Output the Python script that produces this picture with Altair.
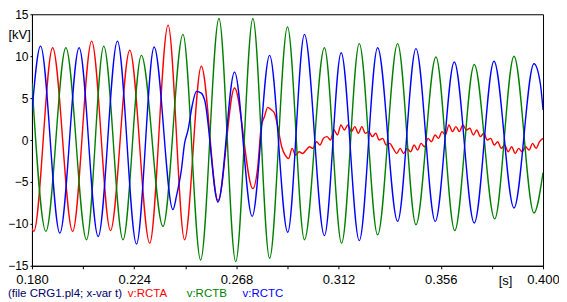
import altair as alt
import pandas as pd

# ---- data (time in s, voltage in kV) ----
rcta_t = [0.1800, 0.1808, 0.1889, 0.1975, 0.2057, 0.2138, 0.2221, 0.2307, 0.2386,
          0.2457, 0.2529, 0.2601, 0.2672, 0.2751, 0.2772, 0.2787, 0.2801, 0.2815,
          0.2830, 0.2844, 0.2858,
          0.2875, 0.2890, 0.2905, 0.2920, 0.2935, 0.2950, 0.2965, 0.2980, 0.2995, 0.3010,
          0.3025, 0.3040, 0.3055, 0.3070, 0.3085, 0.3100, 0.3115, 0.3130, 0.3145, 0.3160,
          0.3175, 0.3190, 0.3205, 0.3220, 0.3235, 0.3250, 0.3265, 0.3280, 0.3295, 0.3310,
          0.3325, 0.3340, 0.3355, 0.3370, 0.3385, 0.3400, 0.3415, 0.3430, 0.3445, 0.3460,
          0.3475, 0.3490, 0.3505, 0.3520, 0.3535, 0.3550, 0.3565, 0.3580, 0.3595, 0.3610,
          0.3625, 0.3640, 0.3655, 0.3670, 0.3685, 0.3700, 0.3715, 0.3730, 0.3745, 0.3760,
          0.3775, 0.3790, 0.3805, 0.3820, 0.3835, 0.3850, 0.3865, 0.3880, 0.3895, 0.3910,
          0.3925, 0.3940, 0.3955, 0.3970, 0.3985, 0.4000]
rcta_v = [-10.6, -10.9, 11.0, -10.9, 11.8, -10.8, 10.7, -12.3, 13.7,
          -11.9, 8.8, -7.2, 6.2, -5.8, -3.2, 1.6, 2.8, 3.9,
          3.6, 3.2, 1.6,
          -0.8, -1.8, -2.2, -1.0, -1.8, -1.4, -1.6, -1.2, -0.8, -1.0,
          -0.2, -0.6, 0.2, 0.4, 0.0, 1.2, 0.6, 1.8, 1.2, 1.8,
          1.0, 1.6, 0.8, 1.6, 0.8, 1.0, 0.4, 0.8, 0.0, 0.2,
          -0.6, -0.4, -1.0, -1.6, -1.0, -1.6, -1.0, -1.4, -0.6, -1.2,
          -0.4, -0.8, 0.2, -0.2, 0.6, 0.2, 1.0, 0.6, 1.8, 1.0,
          1.6, 1.0, 1.8, 1.2, 1.4, 0.6, 1.2, 0.4, 0.8, 0.0,
          0.2, -0.6, -0.2, -1.0, -0.6, -1.4, -0.8, -1.6, -1.0, -1.4,
          -0.8, -1.2, -0.4, -1.0, -0.2, 0.2]

rctb_t = [0.1800, 0.1860, 0.1946, 0.2035, 0.2109, 0.2192, 0.2271, 0.2364, 0.2450,
          0.2526, 0.2605, 0.2677, 0.2751, 0.2823, 0.2900, 0.2973, 0.3059, 0.3133,
          0.3209, 0.3288, 0.3374, 0.3453, 0.3539, 0.3620, 0.3704, 0.3792, 0.3875,
          0.3961, 0.4000]
rctb_v = [6.8, -10.9, 11.0, -11.9, 11.2, -11.9, 10.1, -10.3, 12.6,
          -14.3, 14.5, -14.5, 14.5, -14.1, 13.5, -11.9, 11.0, -12.3,
          11.5, -11.3, 11.5, -10.1, 9.9, -10.8, 9.0, -9.4, 10.0,
          -8.7, -3.9]

rctc_t = [0.1800, 0.1837, 0.1920, 0.2003, 0.2085, 0.2168, 0.2250, 0.2326, 0.2407,
          0.2422, 0.2443, 0.2457, 0.2472, 0.2489, 0.2508, 0.2529, 0.2543, 0.2601,
          0.2672, 0.2748, 0.2823, 0.2901, 0.2973, 0.3059, 0.3131, 0.3209, 0.3288,
          0.3374, 0.3453, 0.3536, 0.3618, 0.3704, 0.3789, 0.3875, 0.3961, 0.3988,
          0.4000]
rctc_v = [3.4, 11.2, -11.1, 11.0, -11.5, 11.8, -12.4, 11.1, -8.3,
          -6.7, -3.6, -0.4, 1.2, 4.0, 5.8, 5.6, 4.8, -7.4,
          8.1, -9.1, 10.1, -11.0, 12.6, -11.4, 10.4, -12.0, 11.0,
          -9.7, 10.9, -9.7, 9.3, -9.9, 9.4, -8.1, 9.1, 6.8,
          3.6]

series_names = ["RCTA", "RCTB", "RCTC"]
series_colors = ["#ff0000", "#008000", "#0000ff"]

x_ticks = [0.180, 0.202, 0.224, 0.246, 0.268, 0.290, 0.312, 0.334, 0.356, 0.378, 0.400]
y_ticks = [-15, -10, -5, 0, 5, 10, 15]

rows = []
for name, ts, vs in [("RCTA", rcta_t, rcta_v), ("RCTB", rctb_t, rctb_v), ("RCTC", rctc_t, rctc_v)]:
    for t, v in zip(ts, vs):
        rows.append({"t": t, "v": v, "s": name})
df = pd.DataFrame(rows)

FONT = "Liberation Sans"

lines = alt.Chart(df).mark_line(interpolate="monotone", strokeWidth=1.4, clip=True).encode(
    x=alt.X("t:Q",
            scale=alt.Scale(domain=[0.18, 0.40], nice=False, zero=False),
            axis=alt.Axis(values=x_ticks,
                          labelExpr="(round(datum.value*1000) - 180) % 44 == 0 ? format(datum.value, '.3f') : ''",
                          labelFlush=False, labelOverlap=False, labelFontSize=13,
                          title="[s]", titleX=474, titleY=15, titleAlign="center",
                          titleBaseline="middle", labelPadding=5, tickSize=3)),
    y=alt.Y("v:Q",
            scale=alt.Scale(domain=[-15, 15], nice=False),
            axis=alt.Axis(values=y_ticks, title="[kV]", titleAngle=0, titleX=-24, titleY=20,
                          titleAlign="left", titleBaseline="middle",
                          labelFlush=False, labelOverlap=False, labelFontSize=12,
                          labelPadding=2, tickSize=2)),
    color=alt.Color("s:N", scale=alt.Scale(domain=series_names, range=series_colors), legend=None),
)

def footer(text, color, px, size):
    return alt.Chart(pd.DataFrame({"a": [0]})).mark_text(
        text=text, color=color, font=FONT, fontSize=size, align="left", baseline="middle"
    ).encode(x=alt.value(px), y=alt.value(280))

chart = alt.layer(
    lines,
    footer("(file CRG1.pl4; x-var t)", "#000066", -24, 11.5),
    footer("v:RCTA", "#ff0000", 96, 11.5),
    footer("v:RCTB", "#008000", 155, 11.5),
    footer("v:RCTC", "#0000ff", 211, 11.5),
).properties(
    width=512, height=252,
    autosize=alt.AutoSizeParams(type="none"),
    padding={"left": 24, "top": 6, "right": 16, "bottom": 34},
).configure_view(
    stroke="black", strokeWidth=1
).configure_axis(
    grid=False, domainColor="black", tickColor="black",
    labelColor="black", labelFont=FONT,
    titleColor="black", titleFont=FONT, titleFontSize=13, titleFontWeight="normal",
)

chart.save("out.html", embed_options={"renderer": "svg", "actions": False})
